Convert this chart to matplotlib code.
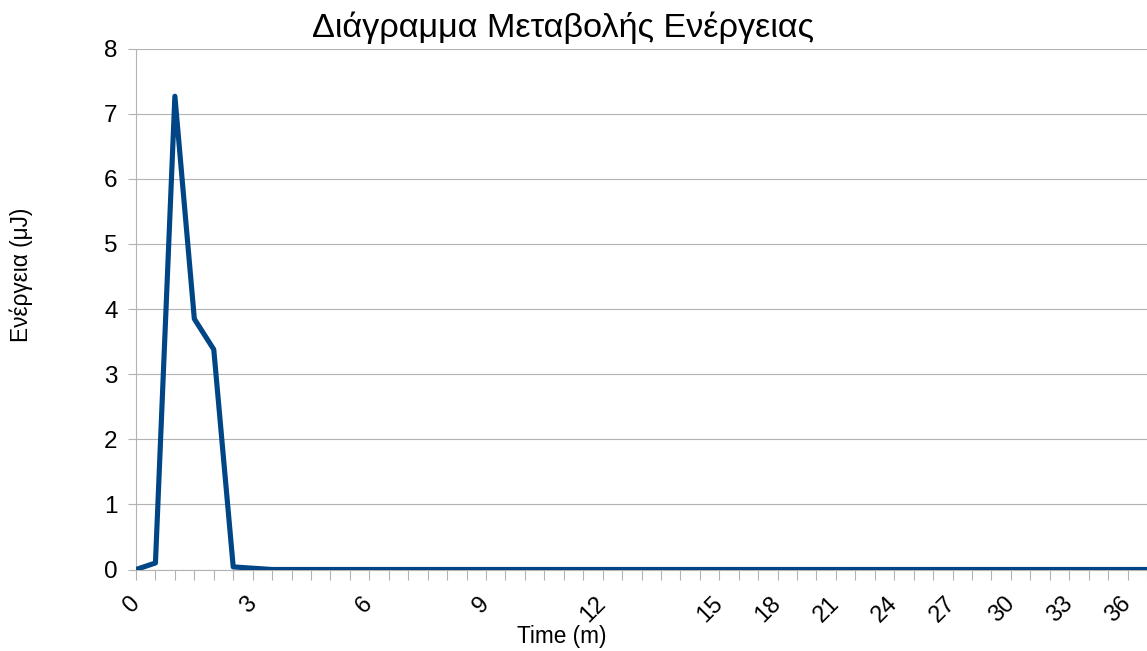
import matplotlib
matplotlib.use("Agg")
import matplotlib.pyplot as plt

# ---------------- data ----------------
time_m = [0, 0.5, 1, 1.5, 2, 2.5, 3, 3.5, 4, 4.5, 5, 5.5, 6, 6.5, 7, 7.5,
          8, 8.5, 9, 9.5, 10, 10.5, 11, 11.5, 12, 12.5, 13, 13.5, 14, 14.5, 15,
          16, 17, 18, 19, 20, 21, 22, 23, 24, 25, 26, 27, 28, 29, 30,
          31, 32, 33, 34, 35, 36, 37]
energy_uj = [0.0, 0.10, 7.27, 3.85, 3.38, 0.04, 0.02, 0.0, 0.0, 0.0, 0.0, 0.0,
             0.0, 0.0, 0.0, 0.0, 0.0, 0.0, 0.0, 0.0, 0.0, 0.0, 0.0, 0.0, 0.0,
             0.0, 0.0, 0.0, 0.0, 0.0, 0.0,
             0.0, 0.0, 0.0, 0.0, 0.0, 0.0, 0.0, 0.0, 0.0, 0.0, 0.0, 0.0,
             0.0, 0.0, 0.0, 0.0, 0.0, 0.0, 0.0, 0.0, 0.0, 0.0]
y_ticks = [0, 1, 2, 3, 4, 5, 6, 7, 8]

title = "Διάγραμμα Μεταβολής Ενέργειας"
x_title = "Time (m)"
y_title = "Ενέργεια (μJ)"

LINE = "#004586"
GRID = "#b3b3b3"

plt.rcParams["font.family"] = ["Liberation Sans", "DejaVu Sans"]

W, H = 1147, 651
fig = plt.figure(figsize=(W / 100, H / 100), dpi=100)

# plot area: left edge at x=136 px, y range 48.7..569.5 px, runs off the right edge
left, top, bottom = 136, 48.7, 569.5
ax = fig.add_axes([left / W, 1 - bottom / H, 1 - left / W, (bottom - top) / H])

idx = list(range(len(time_m)))
ax.plot(idx, energy_uj, color=LINE, lw=3.7, solid_joinstyle="round",
        solid_capstyle="butt", zorder=3, clip_on=True)

step_px = 19.55
ax.set_xlim(0, (W - left) / step_px)
ax.set_ylim(0, 8)

# category axis: a tick at every category, label only on multiples of 3
ax.set_xticks(idx)
labels = []
for t in time_m:
    if float(t).is_integer() and int(t) % 3 == 0:
        labels.append(str(int(t)))
    else:
        labels.append("")
ax.set_xticklabels(labels, rotation=45, ha="right", va="center",
                   rotation_mode="anchor", fontsize=17)
ax.tick_params(axis="x", direction="out", length=7.2, width=0.8, color=GRID, pad=15)

ax.set_yticks(y_ticks)
ax.set_yticklabels([str(v) for v in y_ticks], fontsize=17.5)
ax.tick_params(axis="y", direction="out", length=5.8, width=0.8, color=GRID, pad=7.5)

ax.grid(axis="y", color=GRID, lw=0.8)
ax.set_axisbelow(True)
for s in ("top", "right"):
    ax.spines[s].set_visible(False)
for s in ("left", "bottom"):
    ax.spines[s].set_color(GRID)
    ax.spines[s].set_linewidth(0.8)

fig.text(562.5 / W, 1 - 28 / H, title, ha="center", va="center", fontsize=24.7)
fig.text(562 / W, 1 - 637 / H, x_title, ha="center", va="center", fontsize=16.3)
fig.text(21 / W, 1 - 275 / H, y_title, ha="center", va="center",
         rotation=90, fontsize=16.3)

fig.savefig("out.png", dpi=100)
